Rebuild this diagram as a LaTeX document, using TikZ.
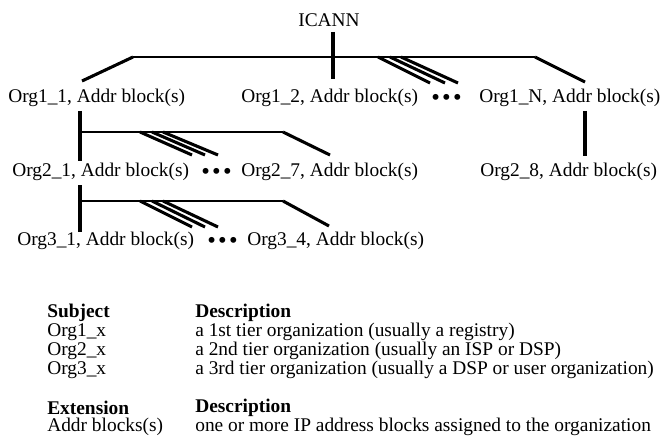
\documentclass[tikz,border=0pt]{standalone}
\usepackage{fontspec}
\setmainfont{Liberation Serif}
\begin{document}
\begin{tikzpicture}[x=0.65pt,y=-0.65pt,
  txt/.style={anchor=west,inner sep=0pt,font=\fontsize{12.6}{14}\selectfont},
  hdr/.style={txt,font=\fontsize{12.6}{14}\selectfont\bfseries},
  bus/.style={line width=1.4pt},
  link/.style={line width=2pt},
  dotsn/.style={anchor=west,inner sep=0pt,font=\fontsize{16}{16}\selectfont}]
\useasboundingbox (0,0) rectangle (664,447);
% texts
\node[anchor=center,inner sep=0pt,font=\fontsize{12.6}{14}\selectfont] (icann) at (329,20) {ICANN};
\node[txt] (o11) at (8,98) {Org1\_1, Addr block(s)};
\node[txt] (o12) at (241,98) {Org1\_2, Addr block(s)};
\node[dotsn] (d1) at (431,100) {•\hspace{1.5pt}•\hspace{1.5pt}•};
\node[txt] (o1n) at (479,98) {Org1\_N, Addr block(s)};
\node[txt] (o21) at (12,172) {Org2\_1, Addr block(s)};
\node[dotsn] (d2) at (201,174) {•\hspace{1.5pt}•\hspace{1.5pt}•};
\node[txt] (o27) at (241,172) {Org2\_7, Addr block(s)};
\node[txt] (o28) at (480,172) {Org2\_8, Addr block(s)};
\node[txt] (o31) at (17,241) {Org3\_1, Addr block(s)};
\node[dotsn] (d3) at (207,243) {•\hspace{1.5pt}•\hspace{1.5pt}•};
\node[txt] (o34) at (247,241) {Org3\_4, Addr block(s)};
% legend
\node[hdr] (hs) at (47,313) {Subject};
\node[hdr] (hd) at (195,313) {Description};
\node[txt] (s1) at (47,332) {Org1\_x};
\node[txt] (t1) at (195,332) {a 1st tier organization (usually a registry)};
\node[txt] (s2) at (47,351) {Org2\_x};
\node[txt] (t2) at (195,351) {a 2nd tier organization (usually an ISP or DSP)};
\node[txt] (s3) at (47,370) {Org3\_x};
\node[txt] (t3) at (195,370) {a 3rd tier organization (usually a DSP or user organization)};
\node[hdr] (he) at (47,408) {Extension};
\node[hdr] (hd2) at (195,408) {Description};
\node[txt] (e1) at (47,427) {Addr blocks(s)};
\node[txt] (f1) at (195,427) {one or more IP address blocks assigned to the organization};
% coordinates level 1
\coordinate (ic1) at (333,32);
\coordinate (ic2) at (333,79);
\coordinate (b1l) at (133,57);
\coordinate (b1r) at (535,57);
\coordinate (l11) at (82,81);
\coordinate (l1n) at (585,82);
\coordinate (h1a) at (378,57); \coordinate (h1ae) at (430,83);
\coordinate (h1b) at (390,57); \coordinate (h1be) at (445,83);
\coordinate (h1c) at (401,57); \coordinate (h1ce) at (458,83);
\draw[link] (ic1) -- (ic2);
\draw[bus] (b1l) -- (b1r);
\draw[link] (b1l) -- (l11);
\draw[link] (b1r) -- (l1n);
\draw[link] (h1a) -- (h1ae);
\draw[link] (h1b) -- (h1be);
\draw[link] (h1c) -- (h1ce);
% level 2
\coordinate (v2a) at (80,111);
\coordinate (v2b) at (80,161);
\coordinate (b2l) at (80,132);
\coordinate (b2r) at (283,132);
\coordinate (l27) at (330,155);
\coordinate (h2a) at (140,132); \coordinate (h2ae) at (192,155);
\coordinate (h2b) at (152,132); \coordinate (h2be) at (205,155);
\coordinate (h2c) at (163,132); \coordinate (h2ce) at (218,155);
\coordinate (vna) at (585,111);
\coordinate (vnb) at (585,156);
\draw[link] (v2a) -- (v2b);
\draw[bus] (b2l) -- (b2r);
\draw[link] (b2r) -- (l27);
\draw[link] (h2a) -- (h2ae);
\draw[link] (h2b) -- (h2be);
\draw[link] (h2c) -- (h2ce);
\draw[link] (vna) -- (vnb);
% level 3
\coordinate (v3a) at (80,185);
\coordinate (v3b) at (80,232);
\coordinate (b3l) at (80,201);
\coordinate (b3r) at (283,201);
\coordinate (l34) at (329,226);
\coordinate (h3a) at (140,201); \coordinate (h3ae) at (192,227);
\coordinate (h3b) at (152,201); \coordinate (h3be) at (205,227);
\coordinate (h3c) at (163,201); \coordinate (h3ce) at (218,227);
\draw[link] (v3a) -- (v3b);
\draw[bus] (b3l) -- (b3r);
\draw[link] (b3r) -- (l34);
\draw[link] (h3a) -- (h3ae);
\draw[link] (h3b) -- (h3be);
\draw[link] (h3c) -- (h3ce);
\end{tikzpicture}
\end{document}
